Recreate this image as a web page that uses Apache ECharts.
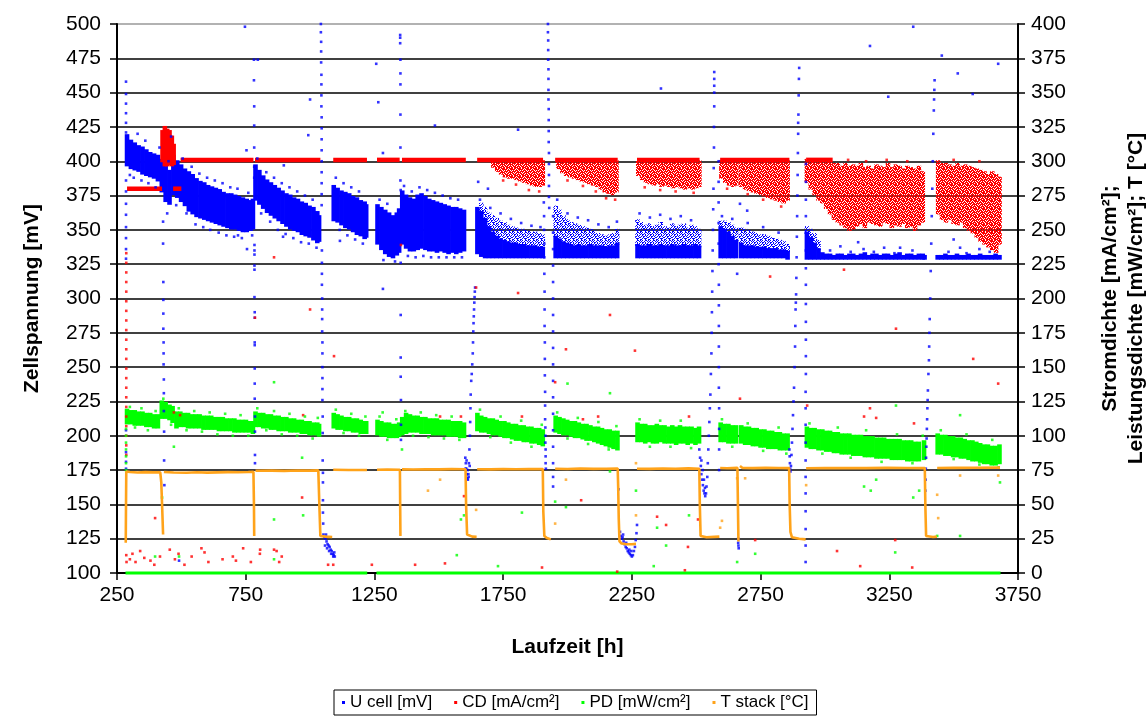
<!DOCTYPE html>
<html>
<head>
<meta charset="utf-8">
<script src="https://cdn.jsdelivr.net/npm/echarts@6.0.0/dist/echarts.min.js"></script>
<style>
html, body { margin: 0; padding: 0; background: #fff; }
#chart { width: 1146px; height: 718px; }
</style>
</head>
<body>
<div id="chart"></div>
<script>
// Long-term test of a single cell: cell voltage (left axis) plus current density,
// power density and stack temperature (right axis) against operating time.

// U cell [mV]: dense band per time step [t h, low, high]
const uCore = [
  [289,397,419],[304,395,415],[319,394,413],[334,393,411],[349,391,410],[364,390,408],[379,389,406],[394,388,405],[409,386,404],
  [424,378,401],[439,371,397],[454,369,393],
  [469,376,404],[484,374,400],[499,371,397],[514,368,394],[529,364,392],[544,362,390],[559,360,387],[574,359,385],[589,358,384],
  [604,357,382],[619,356,381],[634,355,380],[649,354,379],[664,353,377],[679,352,376],[694,351,376],[709,351,375],[724,350,374],
  [739,349,373],[754,349,372],[769,350,371],[778,351,372],
  [788,372,397],[803,369,393],[818,366,389],[833,363,386],[848,361,384],[863,359,382],[878,357,380],[893,355,378],[908,353,376],
  [923,351,375],[938,350,373],[953,349,372],[968,347,370],[983,346,369],[998,345,367],[1013,343,366],[1028,341,363],[1035,342,360],
  [1092,357,382],[1107,356,380],[1122,354,378],[1137,352,377],[1152,351,376],[1167,349,374],[1182,347,373],[1197,346,371],
  [1212,344,370],[1218,345,368],
  [1262,340,368],[1277,336,366],[1292,333,364],[1307,331,362],[1322,330,360],[1337,332,362],[1346,334,365],
  [1358,340,378],[1373,337,375],[1388,335,373],[1403,335,372],[1418,336,375],[1433,337,376],[1448,336,374],[1463,335,372],
  [1478,335,371],[1493,334,370],[1508,335,369],[1523,334,368],[1538,333,367],[1553,334,366],[1568,333,366],[1583,334,365],[1598,335,364],
  [1650,333,366],[1665,331,363],[1680,330,358],[1695,330,352],[1710,330,348],[1725,330,345],[1740,330,343],[1755,330,342],
  [1770,330,341],[1785,330,340],[1800,330,340],[1815,330,339],[1830,330,339],[1845,330,338],[1860,330,338],[1875,330,338],
  [1890,330,337],[1904,330,337],
  [1954,330,345],[1969,330,343],[1984,330,341],[1999,330,340],[2014,330,339],[2029,330,338],[2044,330,339],[2059,330,338],
  [2074,330,338],[2089,330,339],[2104,330,338],[2119,330,338],[2134,330,338],[2149,330,337],[2164,330,338],[2179,330,338],[2193,330,340],
  [2272,330,339],[2287,330,338],[2302,330,338],[2317,330,339],[2332,330,338],[2347,330,338],[2362,330,339],[2377,330,338],
  [2392,330,338],[2407,330,339],[2422,330,338],[2437,330,338],[2452,330,339],[2467,330,338],[2482,330,338],[2497,330,339],[2511,330,338],
  [2595,330,352],[2610,330,350],[2625,330,348],[2640,330,345],[2655,330,342],
  [2675,330,340],[2690,330,338],[2705,330,338],[2720,330,338],[2735,330,337],[2750,330,337],[2765,330,337],[2780,330,336],
  [2795,330,336],[2810,330,336],[2825,330,335],[2840,330,335],[2855,329,334],
  [2930,329,348],[2945,329,344],[2960,329,340],[2975,329,336],[2990,329,333],
  [3005,329,332],[3020,329,332],[3035,329,331],[3050,329,332],[3065,329,332],[3080,329,331],[3095,329,332],[3110,329,332],
  [3125,329,331],[3140,329,332],[3155,329,333],[3170,329,331],[3185,329,332],[3200,329,332],[3215,329,331],[3230,329,332],
  [3245,329,332],[3260,329,331],[3275,329,332],[3290,329,333],[3305,329,331],[3320,329,332],[3335,329,332],[3350,329,331],
  [3365,329,332],[3380,329,332],[3387,329,331],
  [3438,329,331],[3453,329,331],[3468,329,332],[3483,329,331],[3498,329,331],[3513,329,332],[3528,329,331],[3543,329,331],
  [3558,329,332],[3573,329,331],[3588,329,331],[3603,329,332],[3618,329,331],[3633,329,331],[3648,329,331],[3663,329,332],[3678,329,331]
];

// U cell [mV]: loosely scattered part above the dense floor [t h, low, high]
const uSpeck = [
  [1665,363,369],[1680,358,366],[1695,352,362],[1710,348,360],[1725,345,358],[1740,343,356],[1755,342,355],[1770,341,353],
  [1785,340,352],[1800,340,351],[1815,339,350],[1830,339,350],[1845,338,349],[1860,338,348],[1875,338,348],[1890,337,347],[1904,337,346],
  [1954,345,367],[1969,343,364],[1984,341,360],[1999,340,357],[2014,339,355],[2029,338,354],[2044,339,353],[2059,338,352],
  [2074,338,351],[2089,339,350],[2104,338,349],[2119,338,347],[2134,338,346],[2149,337,345],[2164,338,346],[2179,338,347],[2193,340,350],
  [2272,339,357],[2287,338,355],[2302,338,353],[2317,339,354],[2332,338,352],[2347,338,353],[2362,339,355],[2377,338,352],
  [2392,338,351],[2407,339,354],[2422,338,352],[2437,338,353],[2452,339,354],[2467,338,351],[2482,338,353],[2497,339,352],[2511,338,350],
  [2595,352,356],[2610,350,356],[2625,348,355],[2640,345,353],[2655,342,351],
  [2675,340,351],[2690,338,350],[2705,338,349],[2720,338,348],[2735,337,347],[2750,337,346],[2765,337,346],[2780,336,345],
  [2795,336,344],[2810,336,343],[2825,335,342],[2840,335,341],[2855,334,339],
  [2930,348,352],[2945,344,350],[2960,340,347],[2975,336,342]
];

// U cell [mV]: single readings (start-up, shut-downs, restarts, outliers) [t h, mV]
const uDots = [
  [285,458],[285,449],[285,442],[285,435],[285,428],[285,421],[285,386],[285,378],[285,369],[285,361],[285,352],[285,344],
  [285,336],[285,329],[285,204],[285,188],[285,181],[285,176],
  [429,356],[429,340],[430,312],[430,299],[430,289],[430,278],[431,268],[431,260],[431,252],[432,241],[432,231],[432,218],[433,203],[433,182],[434,164],
  [782,474],[782,459],[783,440],[783,426],[783,410],[783,396],[783,388],[784,339],[784,335],[784,332],[784,324],[784,321],[784,301],
  [785,290],[785,286],[785,268],[785,266],[785,249],[785,238],[785,227],[786,214],[786,203],[786,186],[786,180],
  [1042,500],[1042,494],[1043,487],[1043,480],[1043,472],[1044,463],[1044,456],[1044,448],[1044,440],[1045,432],[1045,424],
  [1045,416],[1045,408],[1045,400],[1045,392],[1045,384],[1045,376],[1045,368],[1046,335],[1046,326],[1046,318],[1046,310],
  [1047,300],[1047,292],[1047,285],[1047,276],[1048,268],[1048,260],[1048,250],[1048,242],[1048,234],[1048,226],[1049,214],
  [1049,202],[1049,182],[1050,173],[1050,166],[1050,153],[1050,144],[1051,136],
  [1052,128],[1056,126],[1060,125],[1062,128],[1064,123],[1058,120],[1066,118],[1068,121],[1072,120],[1074,116],[1076,119],
  [1080,117],[1082,114],[1084,116],[1088,114],[1090,112],[1092,113],[1094,115],[1096,112],
  [1350,492],[1350,490],[1350,486],[1351,474],[1351,464],[1351,456],[1351,434],[1351,410],[1351,386],[1352,379],[1352,340],
  [1352,326],[1352,288],[1352,257],[1352,243],[1353,226],[1353,208],[1353,197],
  [1603,184],[1604,176],[1605,180],[1607,176],[1608,182],[1609,172],[1611,169],[1612,175],[1613,168],[1615,172],[1616,170],
  [1617,180],[1619,190],[1620,178],[1621,200],[1622,210],[1623,220],[1624,230],[1626,240],[1628,245],[1630,252],[1632,260],
  [1633,268],[1634,276],[1635,282],[1636,287],[1637,292],[1638,297],[1639,301],[1640,305],[1641,308],
  [1908,370],[1909,360],[1909,350],[1910,340],[1910,330],[1910,318],[1911,305],[1911,292],[1911,280],[1912,268],[1912,256],
  [1912,244],[1913,232],[1913,222],[1913,212],[1914,206],[1914,200],[1914,195],[1915,190],[1915,185],[1915,180],[1916,176],
  [1924,500],[1924,494],[1925,488],[1925,481],[1925,474],[1926,467],[1926,460],[1926,452],[1926,445],[1927,438],[1927,430],
  [1927,422],[1927,414],[1928,406],[1928,398],[1928,390],[1928,382],[1928,374],[1929,366],
  [1944,360],[1944,348],[1944,336],[1944,324],[1944,312],[1944,300],[1944,288],[1944,276],[1944,264],[1944,252],[1944,240],
  [1944,228],[1944,216],[1944,204],[1944,192],[1944,180],[1944,170],[1944,163],
  [2192,356],[2198,161],[2204,130],[2207,127],[2210,125],[2214,126],[2216,128],[2218,123],[2222,121],[2226,119],[2228,122],
  [2230,118],[2234,116],[2238,115],[2240,117],[2242,114],[2246,113],[2248,116],[2250,112],[2254,113],[2258,116],[2262,119],
  [2265,124],[2268,129],[2270,135],
  [2512,190],[2515,184],[2518,178],[2520,172],[2520,182],[2523,168],[2525,175],[2526,164],[2529,160],[2530,168],[2532,158],
  [2534,162],[2535,156],[2538,158],[2540,163],
  [2543,170],[2545,180],[2547,190],[2549,200],[2551,210],[2553,220],[2555,230],[2557,245],[2559,260],[2560,275],[2561,290],
  [2562,305],[2563,320],[2564,335],[2565,350],[2566,365],[2567,380],[2568,395],[2569,410],[2569,425],[2570,440],[2570,450],
  [2570,455],[2570,460],[2570,465],
  [2587,400],[2587,385],[2587,370],[2587,355],[2587,340],[2587,325],[2588,310],[2588,295],[2588,280],[2588,265],[2588,250],
  [2588,235],[2589,220],[2589,205],[2589,190],[2589,175],
  [2663,125],[2663,122],[2664,120],[2665,118],
  [2862,190],[2863,185],[2864,180],[2865,176],[2866,174],[2868,178],[2870,186],[2872,195],[2874,205],[2876,215],[2878,225],
  [2880,235],[2882,250],[2884,265],[2885,280],[2886,292],[2887,297],[2888,303],[2889,315],[2890,330],[2891,345],[2892,360],
  [2893,375],[2894,390],[2895,406],[2896,420],[2896,428],[2897,434],[2898,448],[2899,460],[2900,468],
  [2925,108],[2925,120],[2925,132],[2925,145],[2925,158],[2925,170],[2925,182],[2925,195],[2925,208],[2925,220],[2925,232],
  [2926,245],[2926,258],[2926,270],[2926,283],[2926,296],[2926,310],[2926,322],[2926,335],[2926,348],[2926,360],[2926,372],
  [2926,385],[2926,398],
  [3390,160],[3391,168],[3392,176],[3393,184],[3394,192],[3395,198],[3396,205],[3397,212],[3398,220],[3399,226],[3400,233],
  [3402,245],[3404,255],[3405,265],[3406,275],[3407,285],[3409,300],[3411,320],[3413,340],[3415,360],[3417,380],[3419,400],
  [3421,420],[3423,437],[3424,445],[3425,452],[3426,459],
  [747,498],[797,474],[1000,445],[993,419],[1257,471],[1265,443],[1283,406],[460,418],[753,408],[898,397],[1485,426],
  [1808,423],[2363,453],[3343,498],[3175,484],[3454,477],[3673,471],[3516,464],[3246,447],[3574,449],[491,109],
  [720,346],[755,336],[895,345],[1116,342],[1283,307],[1691,380],[1653,385],[2659,318],[2670,369],[2698,364],
  [3020,335],[3060,338],[3100,334],[3129,341],[3150,336],[3190,334],[3230,337],[3270,333],[3292,337],[3340,335],
  [3480,334],[3500,343],[3525,337],[3550,333],[3600,336],[3640,334]
];

// U cell [mV]: readings just outside the dense bands [t h, mV]
const uFringe = [
  [300,390],[315,388],[330,420],[345,386],[360,415],[372,384],[400,381],[415,410],[445,362],[450,400],[480,368],[505,402],
  [520,362],[540,396],[555,354],[570,391],[585,352],[600,388],[612,350],[630,386],[645,348],[660,384],[675,346],[690,381],
  [705,345],[718,380],[735,344],[760,377],[775,346],
  [795,402],[810,362],[830,392],[845,356],[860,388],[875,350],[890,384],[905,347],[920,381],[935,344],[950,378],[965,341],
  [980,375],[995,340],[1010,372],[1025,337],
  [1100,388],[1115,350],[1130,384],[1145,346],[1160,381],[1175,343],[1190,378],[1205,340],
  [1270,372],[1285,328],[1300,369],[1330,327],
  [1365,382],[1380,331],[1395,378],[1410,330],[1425,381],[1440,331],[1455,379],[1470,330],[1485,377],[1500,330],[1515,375],
  [1530,330],[1545,373],[1560,330],[1575,372],[1590,330],
  [1660,372],[1700,366],[1740,362],[1780,358],[1820,355],[1860,353],[1895,352],
  [1960,372],[2000,362],[2040,359],[2080,357],[2120,354],[2160,352],
  [2280,362],[2320,359],[2360,361],[2400,358],[2440,360],[2480,357],
  [2600,360],[2640,358],[2700,355],[2760,352],[2820,348]
];

// CD [mA/cm²]: constant set points [t start h, t end h, mA/cm²]
const cdLevels = [
  [289,425,280],[468,500,280],
  [497,780,301],[786,1040,301],[1090,1221,301],[1260,1348,301],[1357,1605,301],[1649,1905,301],
  [1952,2195,301],[2270,2513,301],[2593,2862,301],[2927,3030,301]
];

// CD [mA/cm²]: dense spread [t h, low, high]
const cdCore = [
  [427,300,322],[436,297,325],[445,297,323],[454,298,322],[463,297,318],[470,298,312]
];

// CD [mA/cm²]: scattered spread below the set point [t h, low, high]
const cdSpeck = [
  [1712,296,300],[1727,293,300],[1742,291,300],[1757,289,300],[1772,288,300],[1787,288,300],[1802,287,300],[1817,286,300],
  [1832,285,300],[1847,284,300],[1862,283,300],[1877,282,300],[1892,282,300],[1904,283,300],
  [1965,295,300],[1980,292,300],[1995,290,300],[2010,289,300],[2025,288,300],[2040,287,300],[2055,286,300],[2070,285,300],
  [2085,284,300],[2100,283,300],[2115,282,300],[2130,280,300],[2145,278,300],[2160,277,300],[2175,276,300],[2190,278,300],
  [2275,290,300],[2290,287,300],[2305,285,300],[2320,284,300],[2335,283,300],[2350,284,300],[2365,282,300],[2380,283,300],
  [2395,282,300],[2410,281,300],[2425,282,300],[2440,281,300],[2455,280,300],[2470,281,300],[2485,280,300],[2500,281,300],[2512,282,300],
  [2598,288,300],[2613,285,300],[2628,283,300],[2643,282,300],[2656,283,300],[2675,282,300],[2690,280,300],[2705,279,300],
  [2720,278,300],[2735,277,300],[2750,276,300],[2765,275,300],[2780,274,300],[2795,273,300],[2810,272,300],[2825,271,300],
  [2840,270,300],[2855,272,300],
  [2930,285,301],[2945,280,301],[2960,276,300],[2975,272,300],[2990,270,300],[3005,266,300],[3020,262,299],[3035,258,298],
  [3050,256,298],[3065,254,296],[3080,252,298],[3095,250,296],[3110,251,297],[3125,253,296],[3140,255,298],[3155,252,295],
  [3170,256,296],[3185,255,294],[3200,254,297],[3215,253,296],[3230,256,295],[3245,255,298],[3260,252,295],[3275,254,297],
  [3290,253,296],[3305,255,294],[3320,252,296],[3335,253,295],[3350,250,294],[3365,254,296],[3380,256,292],
  [3440,262,300],[3455,258,298],[3470,256,298],[3485,258,297],[3500,255,296],[3515,254,298],[3530,256,296],[3545,252,297],
  [3560,250,296],[3575,248,295],[3590,245,294],[3605,242,293],[3620,240,292],[3635,238,290],[3650,236,292],[3665,234,290],[3678,240,288]
];

// CD [mA/cm²]: single readings [t h, mA/cm²]
const cdDots = [
  [286,233],[286,226],[286,219],[286,212],[286,205],[286,198],[286,191],[286,184],[286,177],[286,170],[286,163],[286,156],
  [286,149],[286,142],[286,135],[286,128],[286,121],[286,114],[286,107],[286,100],[286,93],[286,86],[286,13],[287,8],
  [300,10],[310,14],[322,8],[340,16],[356,11],[380,9],[395,6],[417,12],[455,17],[475,10],[489,14],[512,6],[540,12],
  [578,18],[590,15],[605,8],[660,10],[700,12],[712,9],[740,18],[770,8],[805,14],[870,16],[880,8],[890,12],[1070,6],[1090,6],[1240,6],
  [860,230],[1000,192],[1093,158],[786,186],[1353,239],[1645,208],[1808,204],[2165,188],[1994,163],[2262,162],[1952,139],
  [2787,216],[3074,221],[3276,178],[3576,156],[3673,138],[2670,127],[2931,122],[3152,114],[3175,120],[3199,113],[3346,109],
  [2729,24],[3273,24],[3047,16],[3137,5],[3339,4],[1505,114],[1586,114],[1823,114],[2060,112],[2119,114],[2472,114],
  [1598,56],[2053,53],[2348,41],[2383,35],[2468,19],[2507,39],[398,40],[969,55],[471,117],[495,115],[973,115],
  [806,17],[860,17],[1408,6],[1524,7],[1901,4],[2193,1],[2456,2],[3090,301],[3160,300],[3240,301],[3320,300],[3500,301],[3600,300],
  [1750,286],[1800,283],[1850,279],[1890,278],[2000,286],[2060,282],[2110,278],[2150,273],[2185,272],[2300,281],[2360,279],
  [2420,278],[2490,277],[2620,280],[2700,276],[2760,272],[2830,267]
];

// PD [mW/cm²]: dense spread [t h, low, high]
const pdCore = [
  [289,109,119],[304,109,118],[319,108,118],[334,108,117],[349,108,117],[364,107,116],[379,107,116],[394,106,115],[409,106,115],
  [424,113,125],[439,113,124],[454,112,122],[466,110,121],
  [481,106,117],[496,107,117],[511,107,116],[526,106,116],[541,106,115],[556,106,115],[571,106,115],[586,105,114],[601,105,114],
  [616,105,114],[631,105,113],[646,104,113],[661,104,113],[676,104,112],[691,104,112],[706,103,112],[721,103,111],[736,103,111],
  [751,103,111],[766,103,110],[778,102,110],
  [788,107,117],[803,107,116],[818,106,116],[833,106,115],[848,105,115],[863,105,114],[878,104,114],[893,104,113],[908,104,113],
  [923,103,112],[938,103,112],[953,103,111],[968,102,111],[983,102,110],[998,101,110],[1013,101,109],[1028,101,109],[1035,100,108],
  [1092,106,116],[1107,105,115],[1122,105,114],[1137,104,113],[1152,104,113],[1167,103,112],[1182,103,112],[1197,102,111],
  [1212,102,110],[1218,102,110],
  [1262,101,111],[1277,100,110],[1292,100,109],[1307,99,109],[1322,99,108],[1337,99,108],[1346,100,109],
  [1358,101,113],[1373,102,116],[1388,103,115],[1403,103,114],[1418,103,114],[1433,102,113],[1448,102,113],[1463,102,112],
  [1478,101,112],[1493,101,112],[1508,101,111],[1523,101,111],[1538,100,111],[1553,100,110],[1568,100,110],[1583,99,110],[1598,99,109],
  [1650,104,116],[1665,103,114],[1680,103,113],[1695,102,112],[1710,101,112],[1725,101,111],[1740,100,110],[1755,99,110],
  [1770,99,109],[1785,98,108],[1800,97,108],[1815,97,107],[1830,96,107],[1845,96,106],[1860,95,106],[1875,95,105],[1890,94,105],[1904,93,104],
  [1954,103,114],[1969,102,113],[1984,101,112],[1999,101,111],[2014,100,110],[2029,99,110],[2044,99,109],[2059,98,108],
  [2074,97,108],[2089,97,107],[2104,96,106],[2119,95,106],[2134,94,105],[2149,93,104],[2164,92,104],[2179,91,103],[2194,90,103],
  [2272,96,109],[2287,96,108],[2302,95,108],[2317,96,107],[2332,95,107],[2347,95,108],[2362,96,107],[2377,95,107],
  [2392,95,106],[2407,95,107],[2422,94,106],[2437,95,107],[2452,95,106],[2467,94,106],[2482,95,106],[2497,94,105],[2511,95,106],
  [2595,96,109],[2610,96,108],[2625,95,108],[2640,95,107],[2655,95,107],[2675,95,107],[2690,94,106],[2705,94,106],
  [2720,93,105],[2735,93,105],[2750,92,104],[2765,92,104],[2780,91,103],[2795,91,103],[2810,91,102],[2825,90,102],[2840,90,101],[2855,90,101],
  [2930,92,106],[2945,91,105],[2960,91,105],[2975,90,104],[2990,90,104],[3005,89,103],[3020,89,103],[3035,88,102],
  [3050,88,102],[3065,87,101],[3080,87,101],[3095,87,101],[3110,86,100],[3125,86,100],[3140,86,100],[3155,85,99],
  [3170,85,99],[3185,85,99],[3200,84,98],[3215,84,98],[3230,84,98],[3245,84,97],[3260,83,97],[3275,83,97],
  [3290,83,97],[3305,83,96],[3320,82,96],[3335,82,96],[3350,82,95],[3365,82,95],[3385,83,96],
  [3438,87,101],[3453,87,100],[3468,86,100],[3483,86,99],[3498,85,99],[3513,85,98],[3528,84,98],[3543,84,97],
  [3558,83,96],[3573,82,96],[3588,82,95],[3603,81,94],[3618,80,93],[3633,80,93],[3648,79,92],[3663,79,92],[3678,80,93]
];

// PD [mW/cm²]: zero readings during interruptions [t start h, t end h, mW/cm²]
const pdBase = [
  [283,1222,0],[1258,3682,0]
];

// PD [mW/cm²]: single readings [t h, mW/cm²]
const pdDots = [
  [285,75],[285,80],[285,85],[285,90],[285,95],[285,100],[285,105],[860,39],[471,92],[425,55],[969,84],[973,42],[1282,117],
  [1357,90],[398,12],[491,12],[860,10],[1823,44],[1586,39],[1598,42],[1952,52],[1994,48],[2165,74],[2266,60],[2348,33],
  [2383,20],[2472,42],[1570,13],[1730,5],[2335,5],[2165,131],[3276,122],[3525,115],[3178,60],[3152,63],[3199,68],[3343,55],
  [3366,60],[2729,14],[3273,15],[2659,8],[3436,27],[3525,27],[3680,66],[2000,138],[860,139],
  [300,121],[320,106],[345,120],[370,104],[400,118],[430,127],[460,108],[490,120],[520,104],[550,118],[580,103],[610,117],
  [640,101],[670,116],[700,100],[730,115],[760,100],
  [795,120],[830,104],[860,118],[890,101],[920,116],[950,100],[980,114],[1010,98],[1030,113],
  [1100,119],[1130,102],[1160,116],[1190,100],[1215,114],
  [1270,114],[1300,97],[1335,112],
  [1370,118],[1400,100],[1430,117],[1460,99],[1490,115],[1520,98],[1550,114],[1580,97],
  [1660,119],[1700,99],[1740,114],[1780,95],[1820,111],[1860,92],[1900,108],
  [1960,117],[2000,98],[2040,113],[2080,94],[2120,110],[2160,90],[2190,107],
  [2280,112],[2320,92],[2360,111],[2400,92],[2440,111],[2480,91],
  [2600,112],[2640,92],[2700,109],[2760,89],[2820,106],[2850,87],
  [2940,109],[2990,87],[3050,106],[3100,84],[3160,104],[3220,81],[3280,101],[3340,80],[3380,100],
  [3450,104],[3500,83],[3550,101],[3600,79],[3650,97],[3675,77]
];

// T stack [°C]: continuous trace, '-' marks an interruption [t h, °C]
const tStack = [
  [284,22],[285,50],[286,74],[300,73.6],[330,73.2],[360,73.5],[390,73.3],[418,73.4],[422,66],[426,45],[429,28],['-','-'],
  [432,73.6],[470,73.2],[520,73.0],[560,73.4],[600,73.1],[640,73.3],[680,73.5],[720,73.4],[760,73.6],[780,73.8],[782,50],[783,27],['-','-'],
  [788,74.5],[850,74.6],[900,74.4],[950,74.7],[1000,74.6],[1032,74.8],[1036,50],[1040,27],[1060,26.5],[1086,26.2],['-','-'],
  [1090,75.2],[1150,75.0],[1221,75.1],['-','-'],
  [1260,75.2],[1300,75.3],[1349,75.2],[1350,50],[1351,27],['-','-'],
  [1357,75.5],[1400,75.4],[1450,75.6],[1500,75.5],[1550,75.7],[1604,75.6],[1606,50],[1610,28],[1615,27],[1630,26.5],[1647,26.3],['-','-'],
  [1649,75.6],[1700,75.5],[1750,75.7],[1800,75.6],[1850,75.8],[1904,75.7],[1906,45],[1910,27],[1920,25.5],[1935,24.5],['-','-'],
  [1952,76],[2000,75.8],[2050,76.1],[2100,75.9],[2150,76],[2195,76.1],[2197,62],[2199,40],[2202,23],[2210,21.5],[2230,21],[2250,21],[2266,21.2],['-','-'],
  [2270,76],[2320,75.9],[2370,76.1],[2420,76],[2470,76.2],[2512,76],[2514,50],[2517,27],[2540,26],[2570,26.3],[2590,26.5],['-','-'],
  [2593,76.5],[2620,76.3],[2660,76.6],[2662,50],[2664,23],['-','-'],
  [2670,78],[2680,76.5],[2720,76.4],[2770,76.6],[2820,76.5],[2861,76.4],[2863,50],[2866,30],[2872,26],[2900,25],[2925,24.5],['-','-'],
  [2927,76.3],[3000,76.4],[3080,76.5],[3160,76.4],[3240,76.6],[3320,76.5],[3388,76.4],[3390,50],[3393,27],[3400,26],[3420,26.2],[3435,26.5],['-','-'],
  [3436,76.5],[3500,76.6],[3580,76.7],[3680,76.8]
];

// T stack [°C]: single readings [t h, °C]
const tDots = [
  [1458,60],[1505,68],[1645,46],[1952,36],[1994,68],[2266,80],[2266,42],[2593,33],[2659,69],[2690,69],[2927,64],
  [3436,57],[3525,71],[3673,71],[2600,38],[3440,40]
];

const FONT = '"Liberation Sans", Arial, Helvetica, sans-serif';
const BLUE = '#0000ff', RED = '#ff0000', GREEN = '#00ff00', ORANGE = '#ffa31a';
const U_NAME = 'U cell [mV]', CD_NAME = 'CD [mA/cm²]', PD_NAME = 'PD [mW/cm²]', T_NAME = 'T stack [°C]';
const BAND_PX = 4.6; // drawn width of one time step

// fixed dither tiles used for the loosely scattered readings
const DITHER_SPARSE = [
  '10100110',
  '01001001',
  '10110100',
  '00100101',
  '01011010',
  '10010001',
  '00101110',
  '11000100'
];
const DITHER_DENSE = [
  '10110111',
  '11101011',
  '01011101',
  '11110110',
  '10101111',
  '11011010',
  '01110111',
  '10111101'
];
function ditherFill(color, rows) {
  const c = document.createElement('canvas');
  c.width = rows[0].length;
  c.height = rows.length;
  const g = c.getContext('2d');
  g.fillStyle = color;
  rows.forEach((r, y) => {
    for (let x = 0; x < r.length; x++) if (r[x] === '1') g.fillRect(x, y, 1, 1);
  });
  return { image: c, repeat: 'repeat' };
}

// one block per time step spanning low to high value
function bandSeries(name, rows, color, axis, fill) {
  return {
    type: 'custom', name, yAxisIndex: axis, silent: true,
    itemStyle: { color },
    encode: { x: 0, y: [1, 2] },
    data: rows,
    renderItem(params, api) {
      const t = api.value(0);
      const lo = api.coord([t, api.value(1)]);
      const hi = api.coord([t, api.value(2)]);
      return {
        type: 'rect',
        shape: { x: lo[0] - BAND_PX / 2, y: hi[1] - 1, width: BAND_PX, height: lo[1] - hi[1] + 2 },
        style: { fill: fill || color }
      };
    }
  };
}

// horizontal run of identical readings
function levelSeries(name, rows, color, axis, width) {
  return {
    type: 'custom', name, yAxisIndex: axis, silent: true,
    itemStyle: { color },
    encode: { x: [0, 1], y: 2 },
    data: rows,
    renderItem(params, api) {
      const a = api.coord([api.value(0), api.value(2)]);
      const b = api.coord([api.value(1), api.value(2)]);
      return { type: 'line', shape: { x1: a[0], y1: a[1], x2: b[0], y2: b[1] }, style: { stroke: color, lineWidth: width } };
    }
  };
}

function dotSeries(name, pts, color, axis) {
  return {
    type: 'scatter', name, yAxisIndex: axis, silent: true,
    symbol: 'rect', symbolSize: 2.6,
    itemStyle: { color },
    data: pts
  };
}

const gridColors = [];
for (let i = 0; i < 16; i++) gridColors.push('#000');
gridColors.push('#999');

const chart = echarts.init(document.getElementById('chart'), null, { renderer: 'canvas' });
chart.setOption({
  animation: false,
  backgroundColor: '#fff',
  textStyle: { fontFamily: FONT },
  grid: { left: 117, right: 128, top: 24, bottom: 145, containLabel: false, outerBoundsMode: 'none' },
  legend: {
    data: [U_NAME, CD_NAME, PD_NAME, T_NAME],
    left: 334, top: 690,
    icon: 'rect', itemWidth: 3, itemHeight: 3, itemGap: 22,
    padding: [4, 8, 4, 8],
    borderColor: '#000', borderWidth: 1,
    textStyle: { fontFamily: FONT, fontSize: 17, color: '#000' }
  },
  xAxis: {
    type: 'value', min: 250, max: 3750, interval: 500,
    name: 'Laufzeit [h]', nameLocation: 'middle', nameGap: 64,
    nameTextStyle: { fontFamily: FONT, fontSize: 21, fontWeight: 'bold', color: '#000' },
    axisLine: { show: true, onZero: false, lineStyle: { color: '#000', width: 2 } },
    axisTick: { show: true, inside: false, length: 7, lineStyle: { color: '#000', width: 1.5 } },
    axisLabel: { fontFamily: FONT, fontSize: 21, color: '#000', margin: 12, formatter: v => String(v) },
    splitLine: { show: false }
  },
  yAxis: [
    {
      type: 'value', min: 100, max: 500, interval: 25, position: 'left',
      name: 'Zellspannung [mV]', nameLocation: 'middle', nameGap: 74, nameRotate: 90,
      nameTextStyle: { fontFamily: FONT, fontSize: 21, fontWeight: 'bold', color: '#000' },
      axisLine: { show: true, lineStyle: { color: '#000', width: 2 } },
      axisTick: { show: true, inside: false, length: 7, lineStyle: { color: '#000', width: 1.5 } },
      axisLabel: { fontFamily: FONT, fontSize: 21, color: '#000', margin: 16 },
      splitLine: { show: true, lineStyle: { color: gridColors, width: 1.6 } }
    },
    {
      type: 'value', min: 0, max: 400, interval: 25, position: 'right',
      name: 'Stromdichte [mA/cm²];\nLeistungsdichte [mW/cm²]; T [°C]',
      nameLocation: 'middle', nameGap: 79, nameRotate: 90,
      nameTextStyle: { fontFamily: FONT, fontSize: 21, fontWeight: 'bold', color: '#000', lineHeight: 26, align: 'center' },
      axisLine: { show: true, lineStyle: { color: '#000', width: 2 } },
      axisTick: { show: true, inside: false, length: 7, lineStyle: { color: '#000', width: 1.5 } },
      axisLabel: { fontFamily: FONT, fontSize: 21, color: '#000', margin: 13 },
      splitLine: { show: false }
    }
  ],
  series: [
    bandSeries(U_NAME, uCore, BLUE, 0, null),
    bandSeries(U_NAME, uSpeck, BLUE, 0, ditherFill(BLUE, DITHER_SPARSE)),
    dotSeries(U_NAME, uDots, BLUE, 0),
    dotSeries(U_NAME, uFringe, BLUE, 0),
    levelSeries(CD_NAME, cdLevels, RED, 1, 4.5),
    bandSeries(CD_NAME, cdCore, RED, 1, null),
    bandSeries(CD_NAME, cdSpeck, RED, 1, ditherFill(RED, DITHER_DENSE)),
    dotSeries(CD_NAME, cdDots, RED, 1),
    bandSeries(PD_NAME, pdCore, GREEN, 1, null),
    levelSeries(PD_NAME, pdBase, GREEN, 1, 3),
    dotSeries(PD_NAME, pdDots, GREEN, 1),
    {
      type: 'line', name: T_NAME, yAxisIndex: 1, silent: true,
      showSymbol: false, connectNulls: false,
      itemStyle: { color: ORANGE },
      lineStyle: { color: ORANGE, width: 2.6 },
      data: tStack
    },
    dotSeries(T_NAME, tDots, ORANGE, 1)
  ]
});
</script>
</body>
</html>
